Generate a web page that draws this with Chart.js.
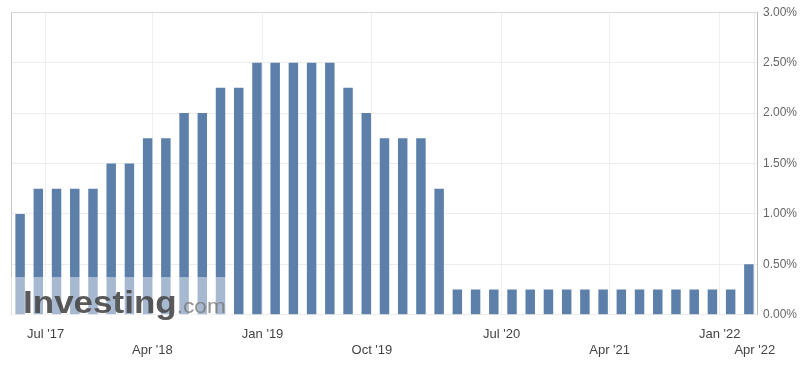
<!DOCTYPE html>
<html>
<head>
<meta charset="utf-8">
<title>Fed Interest Rate Decision</title>
<script src="https://cdn.jsdelivr.net/npm/chart.js@4/dist/chart.umd.min.js"></script>
<style>
    body { margin: 0; background: #fff; }
    canvas { display: block; }
</style>
</head>
<body>
<canvas id="rateChart" width="804" height="370"></canvas>
<script>
// Data
const meetingDates = [
    '2017-05-03', '2017-06-14', '2017-07-26', '2017-09-20', '2017-11-01', '2017-12-13',
    '2018-01-31', '2018-03-21', '2018-05-02', '2018-06-13', '2018-08-01', '2018-09-26', '2018-11-08', '2018-12-19',
    '2019-01-30', '2019-03-20', '2019-05-01', '2019-06-19', '2019-07-31', '2019-09-18', '2019-10-30', '2019-12-11',
    '2020-01-29', '2020-03-03', '2020-03-15', '2020-04-29', '2020-06-10', '2020-07-29', '2020-09-16', '2020-11-05', '2020-12-16',
    '2021-01-27', '2021-03-17', '2021-04-28', '2021-06-16', '2021-07-28', '2021-09-22', '2021-11-03', '2021-12-15',
    '2022-01-26', '2022-03-16'
];

const rateValues = [
    1.00, 1.25, 1.25, 1.25, 1.25, 1.50,
    1.50, 1.75, 1.75, 2.00, 2.00, 2.25, 2.25, 2.50,
    2.50, 2.50, 2.50, 2.50, 2.25, 2.00, 1.75, 1.75,
    1.75, 1.25, 0.25, 0.25, 0.25, 0.25, 0.25, 0.25, 0.25,
    0.25, 0.25, 0.25, 0.25, 0.25, 0.25, 0.25, 0.25,
    0.25, 0.50
];

const tickDates = ['2017-07-01', '2018-04-01', '2019-01-01', '2019-10-01', '2020-07-01', '2021-04-01', '2022-01-01', '2022-04-01'];
const tickLabels = ["Jul '17", "Apr '18", "Jan '19", "Oct '19", "Jul '20", "Apr '21", "Jan '22", "Apr '22"];

const yTicks = { min: 0, max: 3, step: 0.5 };

// Helpers
const toTime = s => new Date(s + 'T00:00:00Z').getTime();

// place a calendar date between the meetings around it (ordinal axis)
function ordinalPosition(dateString) {
    const t = toTime(dateString);
    const times = meetingDates.map(toTime);
    const last = times.length - 1;
    for (let i = 0; i < last; i++) {
        if (t >= times[i] && t < times[i + 1]) {
            return i + (t - times[i]) / (times[i + 1] - times[i]);
        }
    }
    return last + (t - times[last]) / (times[last] - times[last - 1]);
}

const tickPositions = tickDates.map(ordinalPosition);

// Watermark
const watermarkPlugin = {
    id: 'watermark',
    afterDatasetsDraw(chart) {
        const { ctx, chartArea } = chart;
        ctx.save();
        ctx.fillStyle = 'rgba(255,255,255,0.45)';
        ctx.fillRect(chartArea.left, 277, 221, chartArea.bottom - 277);
        ctx.translate(23, 313);
        ctx.scale(1.13, 1);
        ctx.textBaseline = 'alphabetic';
        ctx.fillStyle = 'rgba(72,72,72,0.9)';
        ctx.font = 'bold 31px "Liberation Sans", Arial, sans-serif';
        ctx.fillText('Investing', 0, 0);
        const w = ctx.measureText('Investing').width;
        ctx.fillStyle = 'rgba(125,125,125,0.85)';
        ctx.font = '20px "Liberation Sans", Arial, sans-serif';
        ctx.fillText('.com', w, 0);
        ctx.restore();
    }
};

// Chart
const ctx = document.getElementById('rateChart').getContext('2d');
new Chart(ctx, {
    type: 'bar',
    data: {
        labels: meetingDates,
        datasets: [{
            label: 'Interest Rate',
            data: rateValues,
            backgroundColor: '#5d80aa',
            borderWidth: 0,
            categoryPercentage: 1,
            barPercentage: 0.52
        }]
    },
    options: {
        responsive: false,
        animation: false,
        layout: { padding: { left: 11, right: 2, top: 12, bottom: 0 } },
        plugins: {
            legend: { display: false },
            tooltip: { enabled: false }
        },
        scales: {
            x: {
                type: 'category',
                offset: true,
                afterBuildTicks(scale) {
                    scale.ticks = tickPositions.map(v => ({ value: v }));
                },
                grid: { color: '#efefef', drawTicks: false, offset: false },
                border: { display: false },
                ticks: {
                    autoSkip: false,
                    maxRotation: 0,
                    minRotation: 0,
                    padding: 12,
                    color: '#444',
                    font: { family: '"Liberation Sans", Arial, sans-serif', size: 13 },
                    callback: (value, index) => index % 2 === 0 ? [tickLabels[index], ''] : ['', tickLabels[index]]
                }
            },
            y: {
                position: 'right',
                min: yTicks.min,
                max: yTicks.max,
                grid: {
                    drawTicks: false,
                    color: c => c.tick && c.tick.value === yTicks.max ? '#d9d9d9' : '#ececec'
                },
                border: { display: true, color: '#bcbcbc' },
                ticks: {
                    stepSize: yTicks.step,
                    padding: 5,
                    color: '#666',
                    font: { family: '"Liberation Sans", Arial, sans-serif', size: 12 },
                    callback: v => v.toFixed(2) + '%'
                }
            },
            yl: {
                position: 'left',
                min: yTicks.min,
                max: yTicks.max,
                grid: { display: false, drawTicks: false },
                border: { display: true, color: '#c8c8c8' },
                ticks: { display: false }
            }
        }
    },
    plugins: [watermarkPlugin]
});
</script>
</body>
</html>
